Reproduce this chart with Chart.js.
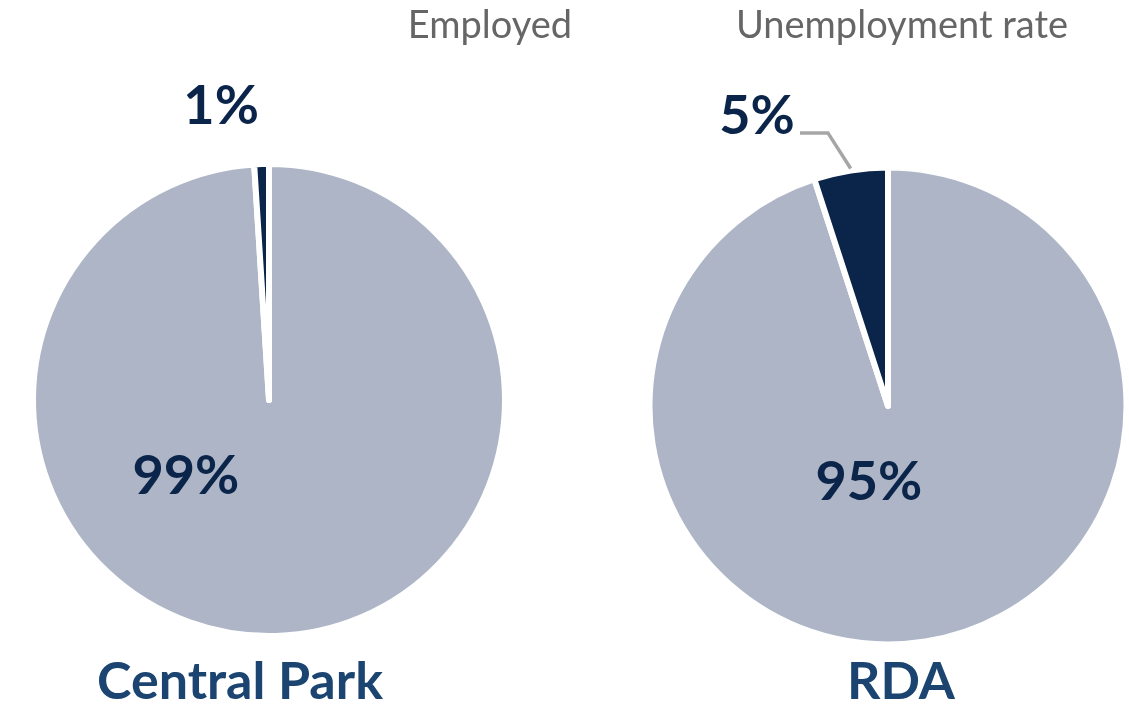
<!DOCTYPE html>
<html>
<head>
<meta charset="utf-8">
<title>Employment</title>
<script src="https://cdn.jsdelivr.net/npm/chart.js@4.4.1/dist/chart.umd.min.js"></script>
<style>
  body { margin: 0; background: #fff; font-family: Lato, "Open Sans", sans-serif; }
  #wrap { position: relative; width: 1129px; height: 727px; overflow: hidden; }
  .box { position: absolute; top: 0; height: 727px; }
  .cap { position: absolute; top: 0; color: #666; font-size: 38px; white-space: nowrap; transform: translateX(-50%); }
  .name { position: absolute; top: 648px; color: #1b4570; font-size: 52px; font-weight: 700; white-space: nowrap; transform: translateX(-50%); }
</style>
</head>
<body>
<div id="wrap">
  <div class="box" style="left:0;width:565px"><canvas id="left"></canvas></div>
  <div class="box" style="left:565px;width:564px"><canvas id="right"></canvas></div>
  <div class="cap" id="cap0" style="left:490px"></div>
  <div class="cap" id="cap1" style="left:902px"></div>
  <div class="name" id="name0" style="left:240px"></div>
  <div class="name" id="name1" style="left:901px"></div>
</div>
<script>
// ---- data ----
const categories = ["Employed", "Unemployment rate"];
const places = ["Central Park", "RDA"];
const centralPark = [99, 1];
const rda = [95, 5];

const GREY = "#adb5c6";
const NAVY = "#0b2449";

document.getElementById("cap0").textContent = categories[0];
document.getElementById("cap1").textContent = categories[1];
document.getElementById("name0").textContent = places[0];
document.getElementById("name1").textContent = places[1];

// label spots, in units of the pie radius from its centre
const leftSpots = [{ dx: -0.352, dy: 0.318 }, { dx: -0.203, dy: -1.25 }];
const rightSpots = [
  { dx: -0.08, dy: 0.314 },
  { dx: -0.549, dy: -1.222, leader: [[-0.369, -1.145], [-0.252, -1.145]] }
];

// percent labels drawn on top of the arcs
const pctLabels = {
  id: "pctLabels",
  afterDatasetsDraw(chart, args, opts) {
    const ctx = chart.ctx;
    const meta = chart.getDatasetMeta(0);
    const a0 = meta.data[0];
    const cx = a0.x, cy = a0.y, r = a0.outerRadius;
    const vals = chart.data.datasets[0].data;
    const size = 54;
    ctx.save();
    ctx.font = "700 " + size + "px Lato, 'Open Sans', sans-serif";
    ctx.fillStyle = NAVY;
    ctx.textAlign = "center";
    ctx.textBaseline = "alphabetic";
    opts.spots.forEach((s, i) => {
      const arc = meta.data[i];
      if (s.leader) {
        // leader from the label to the middle of the slice's outer edge
        const mid = (arc.startAngle + arc.endAngle) / 2;
        const ex = cx + Math.cos(mid) * r, ey = cy + Math.sin(mid) * r;
        ctx.beginPath();
        ctx.strokeStyle = "#a6a6a6";
        ctx.lineWidth = 3.5;
        ctx.moveTo(cx + s.leader[0][0] * r, cy + s.leader[0][1] * r);
        ctx.lineTo(cx + s.leader[1][0] * r, cy + s.leader[1][1] * r);
        ctx.lineTo(ex, ey - 2);
        ctx.stroke();
      }
      ctx.fillText(vals[i] + "%", cx + s.dx * r, cy + s.dy * r + size * 0.36);
    });
    ctx.restore();
  }
};

function makePie(id, values, radius, pad, spots) {
  return new Chart(document.getElementById(id), {
    type: "pie",
    data: {
      labels: categories,
      datasets: [{
        data: values,
        backgroundColor: [GREY, NAVY],
        borderColor: "#fff",
        borderWidth: 6,
        borderJoinStyle: "round"
      }]
    },
    options: {
      responsive: true,
      maintainAspectRatio: false,
      animation: false,
      radius: radius,
      layout: { padding: pad },
      plugins: {
        legend: { display: false },
        tooltip: { enabled: false },
        pctLabels: { spots: spots }
      }
    },
    plugins: [pctLabels]
  });
}

// chart area centred on each pie: left (269.5, 400), right (888, 404)
makePie("left", centralPark, 236, { left: 29, right: 56, top: 160, bottom: 87 }, leftSpots);
makePie("right", rda, 238.5, { left: 82, right: 0, top: 164, bottom: 79 }, rightSpots);
</script>
</body>
</html>
